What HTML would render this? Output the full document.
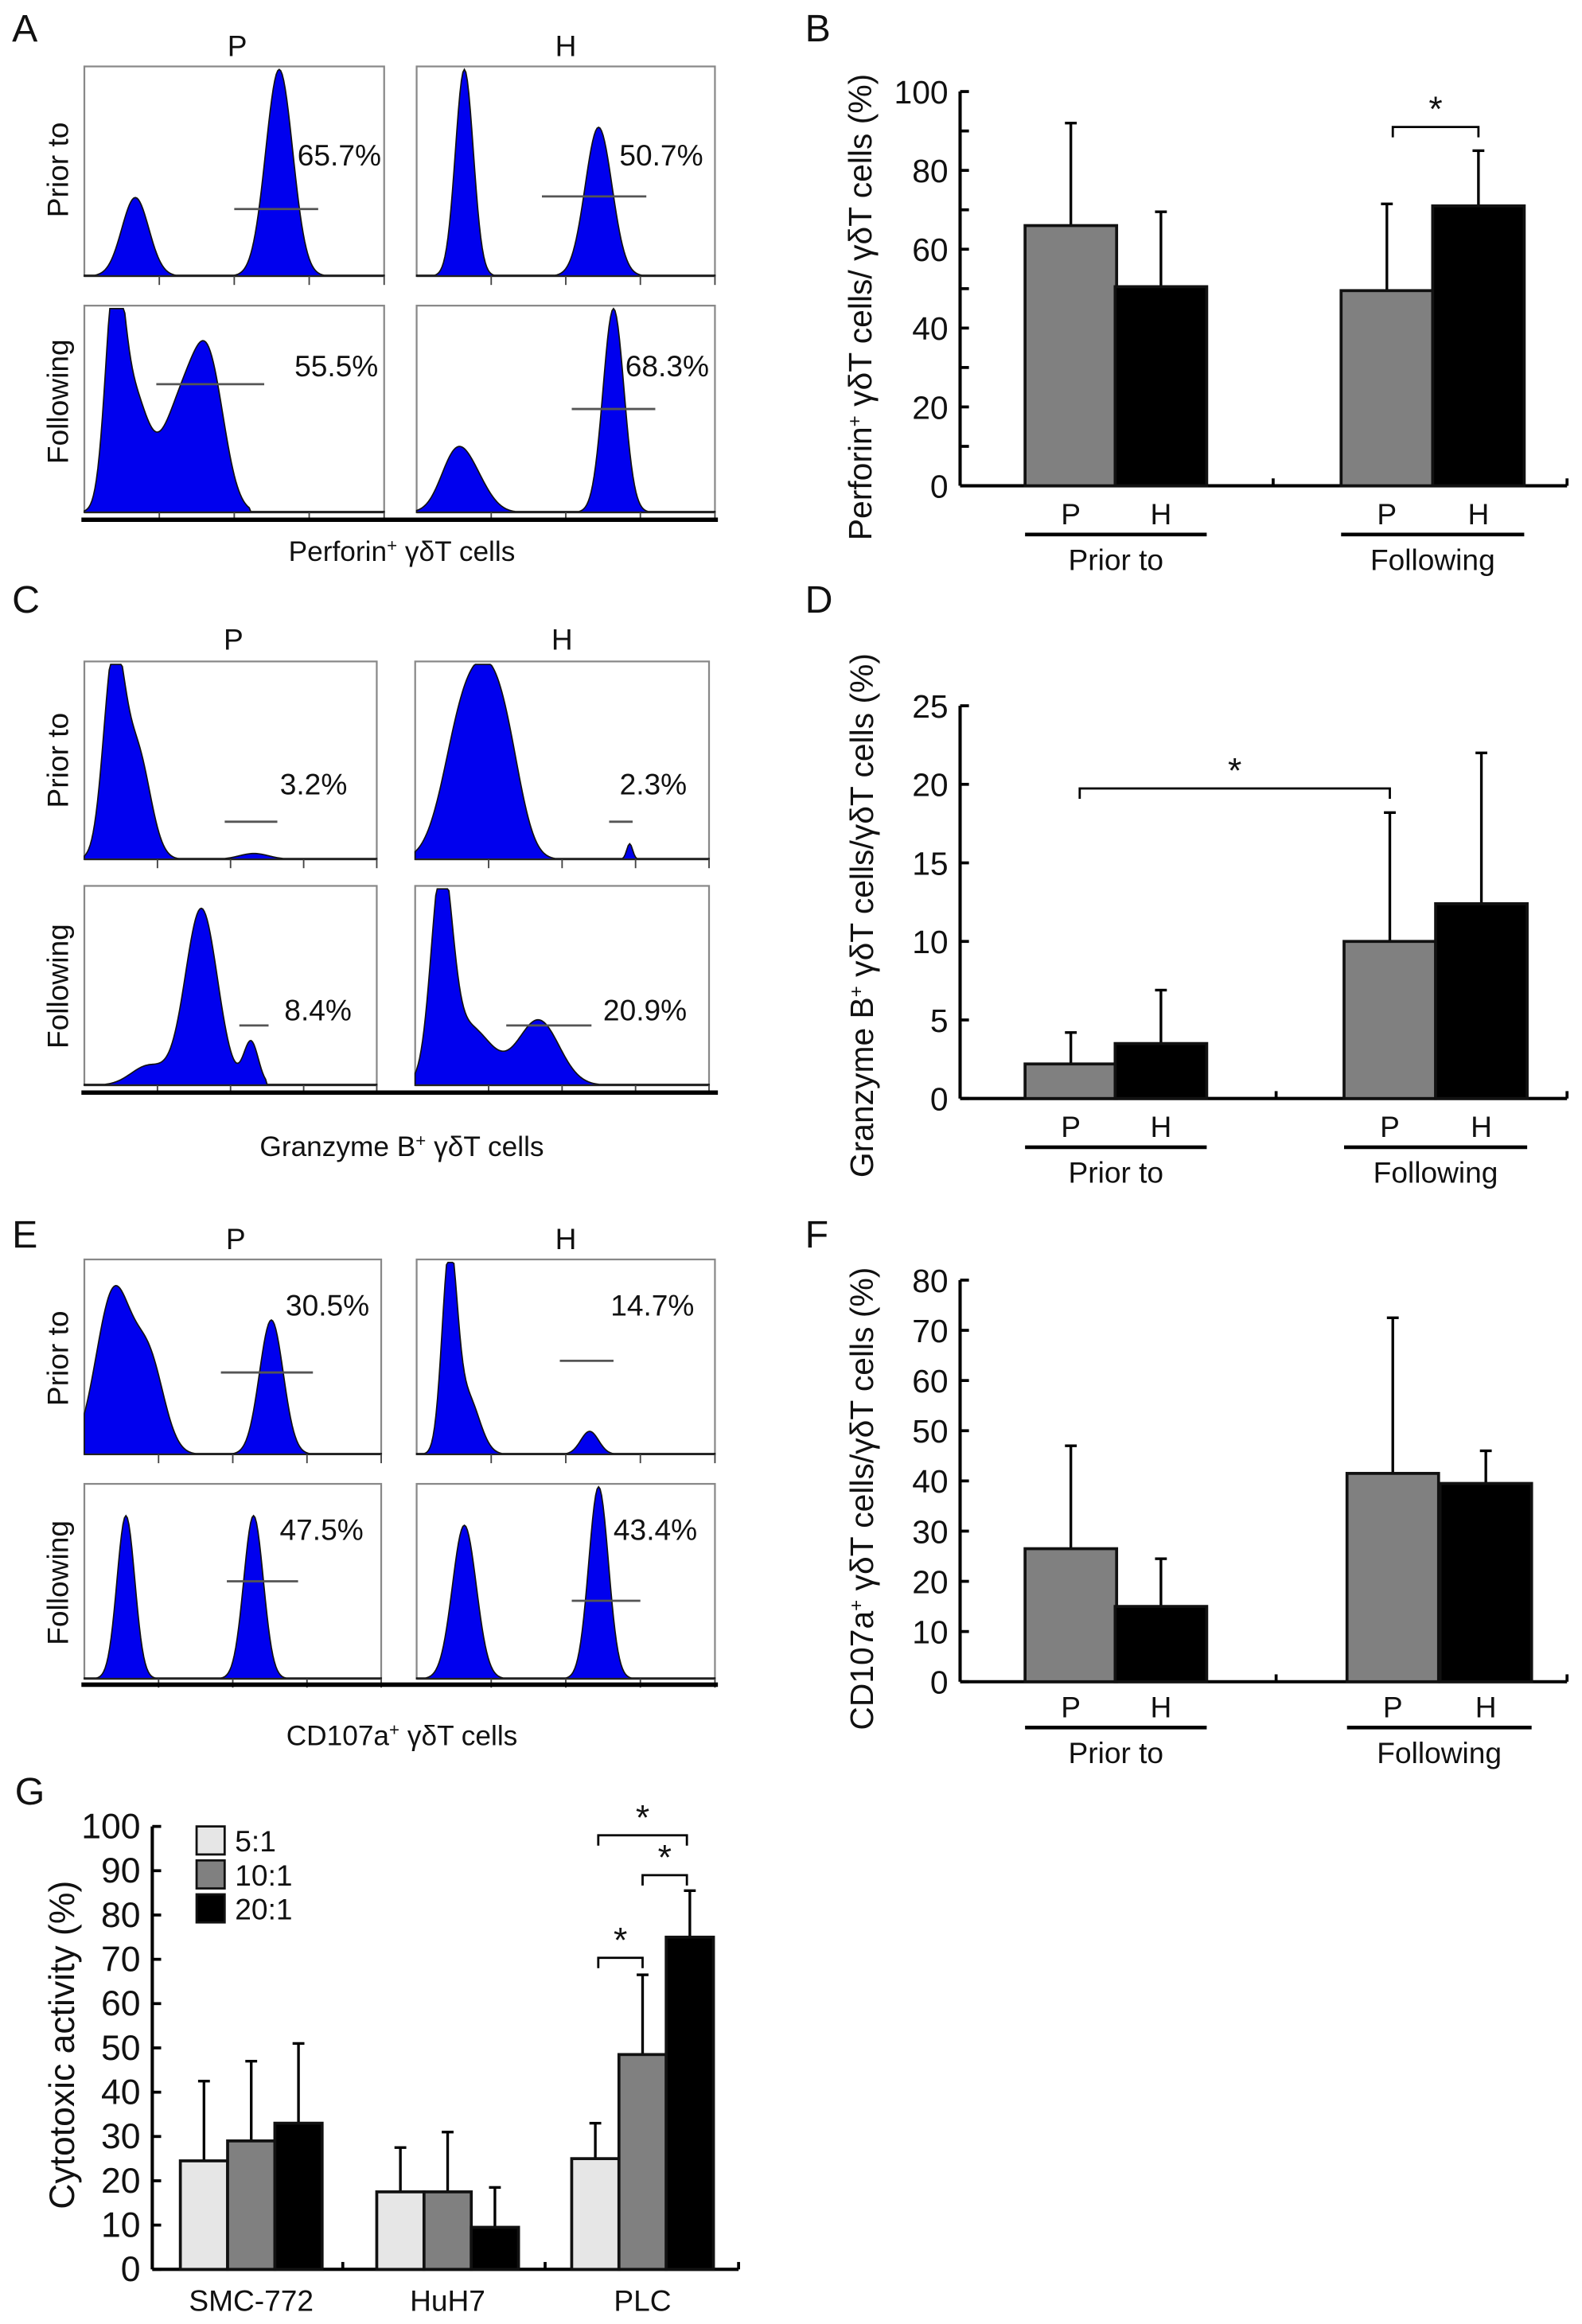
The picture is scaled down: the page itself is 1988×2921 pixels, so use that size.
<!DOCTYPE html>
<html><head><meta charset="utf-8">
<style>
html,body{margin:0;padding:0;background:#fff;}
svg{display:block;font-family:"Liberation Sans",Arial,sans-serif;}
</style></head>
<body>
<svg id="fig" width="1988" height="2921" viewBox="0 0 1071 1574" xmlns="http://www.w3.org/2000/svg"></svg>
<script>
// ---- Chart data ----
const groupsBDF = ["Prior to", "Following"];
const seriesBDF = ["P", "H"];
const perforinValues = [66, 50.5, 49.5, 71];
const perforinErrors = [92, 69.5, 71.5, 85];
const perforinTicks = ["0", "20", "40", "60", "80", "100"];
const granzymeValues = [2.2, 3.5, 10, 12.4];
const granzymeErrors = [4.2, 6.9, 18.2, 22];
const granzymeTicks = ["0", "5", "10", "15", "20", "25"];
const cd107Values = [26.5, 15, 41.5, 39.5];
const cd107Errors = [47, 24.5, 72.5, 46];
const cd107Ticks = ["0", "10", "20", "30", "40", "50", "60", "70", "80"];
const cellLines = ["SMC-772", "HuH7", "PLC"];
const ratios = ["5:1", "10:1", "20:1"];
const cytoValues = [24.5, 29, 33, 17.5, 17.5, 9.5, 25, 48.5, 75];
const cytoErrors = [42.5, 47, 51, 27.5, 31, 18.5, 33, 66.5, 85.5];
const cytoTicks = ["0","10","20","30","40","50","60","70","80","90","100"];
const histPercents = ["65.7%","50.7%","55.5%","68.3%","3.2%","2.3%","8.4%","20.9%","30.5%","14.7%","47.5%","43.4%"];

const NS = "http://www.w3.org/2000/svg";
const svg = document.getElementById("fig");
function el(tag, attrs, parent, text){
  const e = document.createElementNS(NS, tag);
  for (const k in attrs) e.setAttribute(k, attrs[k]);
  if (text !== undefined) e.textContent = text;
  (parent || svg).appendChild(e);
  return e;
}
function txt(x,y,s,size,anchor,parent,name){
  const t = el("text",{x:x,y:y,"font-size":size,"text-anchor":anchor||"middle",fill:"#111"},parent,s);
  
  
  return t;
}

// ---- panel letters ----
[["A",8,28],["B",545,28],["C",8,415],["D",545,415],["E",8,845],["F",545,845],["G",10,1222]].forEach(p=>{
  txt(p[1],p[2],p[0],26,"start",null,"panel-letter-"+p[0].toLowerCase());
});

// ---- histograms ----
const histPanels = [
  {name:"perforin", top:[45,187], bot:[207,347], left:[57,260], right:[282,484], line:352, title:"Perforin", titleY:380, colY:38, rowY:[115,272],
   peaks:[[[0.17,0.38,0.045],[0.65,1.0,0.045]],[[0.16,1.0,0.03],[0.61,0.72,0.045]],
          [[0.1,0.95,0.03],[0.16,0.55,0.05],[0.33,0.55,0.07],[0.42,0.55,0.05]],[[0.13,0.27,0.05],[0.2,0.12,0.05],[0.66,1.0,0.035]]],
   gates:[[0.5,0.78,0.32],[0.42,0.77,0.38],[0.24,0.6,0.62],[0.52,0.8,0.5]],
   pct:[[258,112],[476,112],[256,255],[480,255]], cut:[1,1,0.55,1]},
  {name:"granzyme", top:[448,582], bot:[600,735], left:[57,255], right:[281,480], line:740, title:"Granzyme B", titleY:783, colY:440, rowY:[515,668],
   peaks:[[[0.1,1.0,0.035],[0.18,0.55,0.045],[0.58,0.03,0.05]],[[0.17,0.75,0.07],[0.27,0.6,0.06],[0.33,0.2,0.05],[0.73,0.08,0.01]],
          [[0.4,0.9,0.055],[0.22,0.1,0.06],[0.57,0.22,0.025]],[[0.09,1.0,0.035],[0.18,0.3,0.08],[0.42,0.33,0.07]]],
   gates:[[0.48,0.66,0.19],[0.66,0.74,0.19],[0.53,0.63,0.3],[0.31,0.6,0.3]],
   pct:[[235,538],[465,538],[238,691],[465,691]], cut:[1,1,0.62,1]},
  {name:"cd107a", top:[853,985], bot:[1005,1137], left:[57,258], right:[282,484], line:1141, title:"CD107a", titleY:1182, colY:846, rowY:[920,1072],
   peaks:[[[0.1,0.85,0.06],[0.22,0.45,0.05],[0.63,0.7,0.04]],[[0.11,1.0,0.025],[0.17,0.3,0.04],[0.58,0.12,0.03]],
          [[0.14,0.85,0.03],[0.57,0.85,0.033]],[[0.16,0.8,0.04],[0.61,1.0,0.033]]],
   gates:[[0.46,0.77,0.42],[0.48,0.66,0.48],[0.48,0.72,0.5],[0.52,0.75,0.4]],
   pct:[[250,891],[470,891],[246,1043],[472,1043]], cut:[1,1,1,1]}
];
let pctIdx = 0;
histPanels.forEach((hp)=>{
  const g = el("g",{});
  
  
  txt((hp.left[0]+hp.left[1])/2+2, hp.colY, "P", 20, "middle", g, "column-label-p");
  txt((hp.right[0]+hp.right[1])/2, hp.colY, "H", 20, "middle", g, "column-label-h");
  ["Prior to","Following"].forEach((r,i)=>{
    const t = txt(0,0,r,20,"middle",g,"row-label");
    t.setAttribute("transform","translate(46,"+hp.rowY[i]+") rotate(-90)");
  });
  const boxes = [[hp.left,hp.top],[hp.right,hp.top],[hp.left,hp.bot],[hp.right,hp.bot]];
  boxes.forEach((b,i)=>{
    const x0=b[0][0], x1=b[0][1], y0=b[1][0], y1=b[1][1];
    const W=x1-x0, H=y1-y0-2;
    const bg = el("g",{},g);
    
    
    el("rect",{x:x0,y:y0,width:W,height:y1-y0,fill:"none",stroke:"#888","stroke-width":1.2},bg);
    let d = "M"+x0+","+y1;
    const N=200;
    for(let k=0;k<=N;k++){
      const f=k/N;
      let v=0;
      if(f<=hp.cut[i]) hp.peaks[i].forEach(p=>{v+=p[1]*Math.exp(-Math.pow((f-p[0])/p[2],2)/2);});
      v=Math.min(v,1);
      if(v<0.004) v=0.004;
      d+=" L"+(x0+f*W).toFixed(2)+","+(y1-v*H).toFixed(2);
    }
    d+=" L"+x1+","+y1+" Z";
    const path = el("path",{d:d,fill:"#0000ee",stroke:"#111","stroke-width":0.9},bg);
    
    
    el("line",{x1:x0,y1:y1,x2:x1,y2:y1,stroke:"#222","stroke-width":1.2},bg);
    for(let k=1;k<=4;k++){
      const tx = x0+W*k/4;
      el("line",{x1:tx,y1:y1,x2:tx,y2:y1+6,stroke:"#444","stroke-width":1},bg);
    }
    const gt=hp.gates[i];
    const gy=y1-gt[2]*(y1-y0);
    const gl = el("line",{x1:x0+gt[0]*W,y1:gy,x2:x0+gt[1]*W,y2:gy,stroke:"#555","stroke-width":1.5},bg);
    
    
    txt(hp.pct[i][0], hp.pct[i][1], histPercents[pctIdx++], 20, "end", bg, "percent-label");
  });
  el("line",{x1:55,y1:hp.line,x2:486,y2:hp.line,stroke:"#000","stroke-width":3},g);
  const t = txt(272, hp.titleY, "", 19, "middle", g, "histogram-title");
  el("tspan",{},t,hp.title);
  el("tspan",{"baseline-shift":"super","font-size":12},t,"+");
  el("tspan",{},t," γδT cells");
});

// ---- bar charts ----
function barChart(o){
  const g = el("g",{});
  
  
  const sy = v => o.y0 - v/o.max*(o.y0-o.yTop);
  el("line",{x1:o.ax,y1:o.yTop,x2:o.ax,y2:o.y0,stroke:"#000","stroke-width":2.2},g);
  el("line",{x1:o.ax,y1:o.y0,x2:o.xEnd,y2:o.y0,stroke:"#000","stroke-width":2.2},g);
  o.xTicks.forEach(x=>el("line",{x1:x,y1:o.y0,x2:x,y2:o.y0-5,stroke:"#000","stroke-width":2},g));
  const nT = o.ticks.length-1;
  o.ticks.forEach((lab,i)=>{
    const v = o.max*i/nT, y=sy(v);
    el("line",{x1:o.ax,y1:y,x2:o.ax+6,y2:y,stroke:"#000","stroke-width":2},g);
    txt(o.ax-8, y+8, lab, o.tickSize||22, "end", g, "y-tick-label");
    if(o.minor){ const ym=sy(v+o.max/nT/2); if(i<nT) el("line",{x1:o.ax,y1:ym,x2:o.ax+6,y2:ym,stroke:"#000","stroke-width":2},g);}
  });
  o.values.forEach((v,i)=>{
    const x=o.barX[i], w=o.barW, y=sy(v);
    const e=sy(o.errors[i]);
    const cx=x+w/2;
    const el1 = el("line",{x1:cx,y1:y,x2:cx,y2:e,stroke:"#000","stroke-width":1.8},g);
    
    
    el("line",{x1:cx-4,y1:e,x2:cx+4,y2:e,stroke:"#000","stroke-width":1.8},g);
    const r = el("rect",{x:x,y:y,width:w,height:o.y0-y,fill:o.colors[i],stroke:"#111","stroke-width":2},g);
    
    
  });
  const yt = txt(0,0,"",o.titleSize||22,"middle",g,"y-axis-title");
  yt.setAttribute("transform","translate("+o.titleX+","+o.titleY+") rotate(-90)");
  o.titleParts.forEach(p=>{
    if(p[1]) el("tspan",{"baseline-shift":"super","font-size":13},yt,p[0]);
    else el("tspan",{},yt,p[0]);
  });
  (o.brackets||[]).forEach(b=>{
    const br = el("path",{d:"M"+b[0]+","+(b[2]+7)+" L"+b[0]+","+b[2]+" L"+b[1]+","+b[2]+" L"+b[1]+","+(b[2]+7),fill:"none",stroke:"#000","stroke-width":1.5},g);
    
    
    txt((b[0]+b[1])/2, b[2]-4, "*", 24, "middle", g, "significance-star");
  });
  return {g, sy};
}
function groupLabels(g, o){
  o.barX.forEach((x,i)=>txt(x+o.barW/2, o.labY, seriesBDF[i%2], 20, "middle", g, "x-series-label"));
  groupsBDF.forEach((name,j)=>{
    const x0=o.barX[j*2], x1=o.barX[j*2+1]+o.barW;
    el("line",{x1:x0,y1:o.lineY,x2:x1,y2:o.lineY,stroke:"#000","stroke-width":2.5},g);
    txt((x0+x1)/2, o.lineY+24, name, 20, "middle", g, "x-group-label");
  });
}
const cols2 = ["#808080","#000","#808080","#000"];
let oB = {name:"perforin-bar-chart",ax:650,y0:329,yTop:62,max:100,xEnd:1061,xTicks:[862,1061],ticks:perforinTicks,minor:true,
  values:perforinValues,errors:perforinErrors,barX:[694,755,908,970],barW:62,colors:cols2,
  titleX:590,titleY:208,titleParts:[["Perforin"],["+",1],[" γδT cells/ γδT cells (%)"]],
  brackets:[[943,1001,86]],labY:355,lineY:362};
let rB = barChart(oB); groupLabels(rB.g,oB);
let oD = {name:"granzyme-bar-chart",ax:650,y0:744,yTop:478,max:25,xEnd:1061,xTicks:[864,1061],ticks:granzymeTicks,
  values:granzymeValues,errors:granzymeErrors,barX:[694,755,910,972],barW:62,colors:cols2,
  titleX:591,titleY:620,titleParts:[["Granzyme B"],["+",1],[" γδT cells/γδT cells (%)"]],
  brackets:[[731,941,534]],labY:770,lineY:777};
let rD = barChart(oD); groupLabels(rD.g,oD);
let oF = {name:"cd107a-bar-chart",ax:650,y0:1139,yTop:867,max:80,xEnd:1061,xTicks:[864,1061],ticks:cd107Ticks,
  values:cd107Values,errors:cd107Errors,barX:[694,755,912,975],barW:62,colors:cols2,
  titleX:591,titleY:1015,titleParts:[["CD107a"],["+",1],[" γδT cells/γδT cells (%)"]],
  labY:1163,lineY:1170};
let rF = barChart(oF); groupLabels(rF.g,oF);

const gCols = ["#e6e6e6","#808080","#000"];
let oG = {name:"cytotoxicity-bar-chart",ax:103,y0:1537,yTop:1237,max:100,xEnd:500,xTicks:[232,369,500],ticks:cytoTicks,tickSize:24,
  values:cytoValues,errors:cytoErrors,barX:[122,154,186,255,287,319,387,419,451],barW:32,
  colors:cytoValues.map((v,i)=>gCols[i%3]),
  titleX:50,titleY:1385,titleSize:24,titleParts:[["Cytotoxic activity (%)"]],
  brackets:[[405,435,1326],[435,465,1270],[405,465,1243]]};
let rG = barChart(oG);
cellLines.forEach((c,j)=>txt(oG.barX[j*3]+48, 1565, c, 20, "middle", rG.g, "x-category-label"));
ratios.forEach((r,i)=>{
  const y=1237+i*23;
  const sw = el("rect",{x:133,y:y,width:19,height:19,fill:gCols[i],stroke:"#111","stroke-width":1.5},rG.g);
  
  
  txt(159, y+17, r, 20, "start", rG.g, "legend-entry");
});
</script>
</body></html>
